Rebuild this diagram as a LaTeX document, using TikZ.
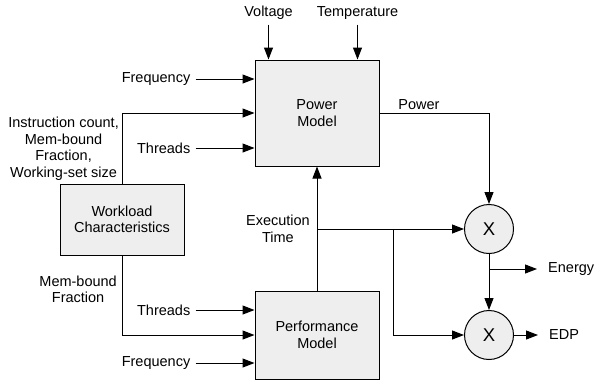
\documentclass[tikz,border=0pt]{standalone}
\usepackage{fontspec}
\setmainfont{Liberation Sans}
\usetikzlibrary{positioning,arrows.meta,calc}
\definecolor{BoxGray}{RGB}{238,238,238}
\tikzset{
  mbox/.style={draw,fill=BoxGray,line width=1bp,minimum width=124bp,
               align=center,font=\fontsize{14.5bp}{16.5bp}\selectfont},
  mult/.style={circle,draw,fill=BoxGray,line width=1bp,minimum size=49bp,
               inner sep=0pt,font=\fontsize{18.5bp}{20bp}\selectfont},
  lbl/.style={inner sep=3bp,align=center,font=\fontsize{14.5bp}{16.5bp}\selectfont},
  arr/.style={-{Triangle[length=12bp,width=9bp]},line width=1bp},
  inarr/.style={arr,shorten <=2bp},
}

\begin{document}
\begin{tikzpicture}[x=1bp,y=1bp]
\useasboundingbox (0,0) rectangle (595,-380);
\node[mbox, minimum height=106bp] (power) at (317,-113) {Power\\Model};
\node[mbox, minimum height=88bp, below=124bp of power] (perf) {Performance\\Model};
\node[mbox, minimum height=71bp] (work) at (122,-219.5) {Workload\\Characteristics};
\node[mult] (mul1) at (489,-229) {X};
\node[mult, below=56bp of mul1] (mul2) {X};

\node[lbl, above=37bp of power.north west, xshift=14bp] (volt) {Voltage};
\node[lbl, above=37bp of power.north east, xshift=-22bp] (temp) {Temperature};
\node[lbl, left=61bp of power.west, yshift=34bp] (freqA) {Frequency};
\node[lbl, left=61bp of power.west, yshift=-35bp] (thrA) {Threads};
\node[lbl, above left=0bp of work.north] (wlbl) {Instruction count,\\Mem-bound\\Fraction,\\Working-set size};
\node[lbl, below left=17bp and 2bp of work.south] (mlbl) {Mem-bound\\Fraction};
\node[lbl, left=61bp of perf.west, yshift=25bp] (thrB) {Threads};
\node[lbl, left=61bp of perf.west, yshift=-28bp] (freqB) {Frequency};

\draw[inarr] (volt) -- (volt |- power.north);
\draw[inarr] (temp) -- (temp |- power.north);
\draw[inarr] (freqA) -- (freqA -| power.west);
\draw[inarr] (thrA) -- (thrA -| power.west);
\draw[arr] (work.north) |- (power.west);
\draw[inarr] (thrB) -- (thrB -| perf.west);
\draw[inarr] (freqB) -- (freqB -| perf.west);
\draw[arr] (work.south) |- (perf.west);

\draw[arr] (power.east) -| node[lbl, pos=0.18, above] {Power} (mul1.north);
\draw[arr] (perf.north) -- (power.south);
\coordinate (et) at (perf.north |- mul1.west);
\node[lbl, left=4bp of et] (exlbl) {Execution\\Time};
\draw[arr] (et) -- (mul1.west);
\draw[arr] ([xshift=76bp]et) |- (mul2.west);

\coordinate (en) at ([yshift=-15bp]mul1.south);
\node[lbl, right=56bp of en] (energy) {Energy};
\node[lbl, right=32bp of mul2] (edp) {EDP};
\draw[arr] (mul1.south) -- (mul2.north);
\draw[arr, shorten >=8bp] (en) -- (energy);
\draw[arr, shorten >=8bp] (mul2) -- (edp);
\end{tikzpicture}
\end{document}
